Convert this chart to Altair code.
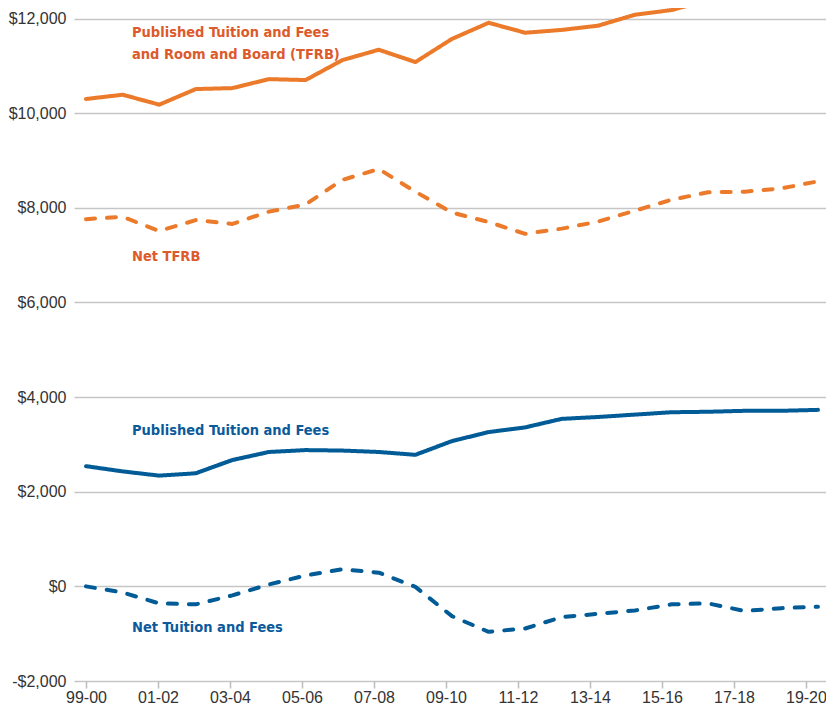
import json
import altair as alt
import pandas as pd

years = ["99-00", "00-01", "01-02", "02-03", "03-04", "04-05", "05-06", "06-07",
         "07-08", "08-09", "09-10", "10-11", "11-12", "12-13", "13-14", "14-15",
         "15-16", "16-17", "17-18", "18-19", "19-20"]

published_tfrb = [10300, 10390, 10180, 10510, 10530, 10720, 10700, 11120, 11340, 11080,
                  11570, 11910, 11700, 11760, 11850, 12080, 12180, 12380, 12560, 12650, 12720]
net_tfrb = [7760, 7810, 7510, 7740, 7660, 7920, 8070, 8590, 8820, 8340,
            7900, 7700, 7450, 7560, 7710, 7940, 8170, 8330, 8340, 8410, 8560]
published_tf = [2540, 2430, 2340, 2390, 2670, 2840, 2880, 2870, 2840, 2780,
                3070, 3260, 3360, 3540, 3580, 3630, 3680, 3690, 3710, 3710, 3730]
net_tf = [0, -130, -360, -380, -190, 40, 230, 360, 290, -10,
          -630, -960, -890, -650, -580, -510, -380, -360, -520, -460, -430]

series_names = ["Published TFRB", "Net TFRB", "Published TF", "Net TF"]
series_values = [published_tfrb, net_tfrb, published_tf, net_tf]
series_colors = ["#EC7A2B", "#EC7A2B", "#005B96", "#005B96"]
series_dash = [[1, 0], [9, 12], [1, 0], [9, 12]]

rows = []
for name, vals in zip(series_names, series_values):
    for i, v in enumerate(vals):
        rows.append({"series": name, "idx": i, "year": years[i], "value": v})
df = pd.DataFrame(rows)

label_texts = ["Published Tuition and Fees", "and Room and Board (TFRB)", "Net TFRB",
               "Published Tuition and Fees", "Net Tuition and Fees"]
label_group = ["orange", "orange", "orange", "blue", "blue"]
label_x = [1.257, 1.257, 1.257, 1.257, 1.257]
label_y = [11605, 11140, 6880, 3194, -956]
labels_df = pd.DataFrame({"text": label_texts, "group": label_group,
                          "x": label_x, "y": label_y})

# x-axis ticks are spaced slightly tighter than the data points in the original
tick_ratio = 36.0 / 36.6
tick_vals = [k * tick_ratio for k in range(len(years))]
tick_labels = [y if k % 2 == 0 else "" for k, y in enumerate(years)]
label_expr_x = json.dumps(tick_labels) + "[round(datum.value / " + repr(tick_ratio) + ")]"

x_scale = alt.Scale(domain=[-0.328, 20.22], nice=False, zero=False)
y_scale = alt.Scale(domain=[-2000, 12223], nice=False, zero=False)

font = "Liberation Sans"

lines = alt.Chart(df).mark_line(strokeWidth=4, strokeCap="round", strokeJoin="round", clip=True).encode(
    x=alt.X("idx:Q", scale=x_scale,
            axis=alt.Axis(values=tick_vals, labelExpr=label_expr_x, title=None,
                          grid=False, domain=False, ticks=True, tickSize=7,
                          tickColor="#BDBDBD", tickWidth=1.5, labelPadding=1,
                          labelFont=font, labelFontSize=16, labelColor="#333333",
                          labelOverlap=False, labelFlush=False)),
    y=alt.Y("value:Q", scale=y_scale,
            axis=alt.Axis(values=list(range(-2000, 12001, 2000)),
                          labelExpr="(datum.value < 0 ? '-$' : '$') + format(abs(datum.value), ',')",
                          title=None, grid=True, gridColor="#C6C6C6", gridWidth=1.5,
                          domain=False, ticks=False, labelPadding=8,
                          labelFont=font, labelFontSize=16, labelColor="#333333")),
    color=alt.Color("series:N", scale=alt.Scale(domain=series_names, range=series_colors), legend=None),
    strokeDash=alt.StrokeDash("series:N", scale=alt.Scale(domain=series_names, range=series_dash), legend=None),
    detail="series:N",
)

texts = alt.Chart(labels_df).mark_text(
    align="left", baseline="alphabetic", fontSize=14.5, fontWeight="bold",
    font="DejaVu Sans Condensed, Liberation Sans"
).encode(
    x=alt.X("x:Q", scale=x_scale),
    y=alt.Y("y:Q", scale=y_scale),
    text="text:N",
    color=alt.Color("group:N", scale=alt.Scale(domain=["orange", "blue"], range=["#DD5A2B", "#0A5A9C"]), legend=None),
)

chart = alt.layer(lines, texts).resolve_scale(color="independent").properties(
    width=752, height=673,
    autosize=alt.AutoSizeParams(type="none"),
    padding={"left": 66, "top": 0, "right": 0, "bottom": 23},
).configure_view(stroke=None)

chart.save("out.html", embed_options={"renderer": "svg", "actions": False})
